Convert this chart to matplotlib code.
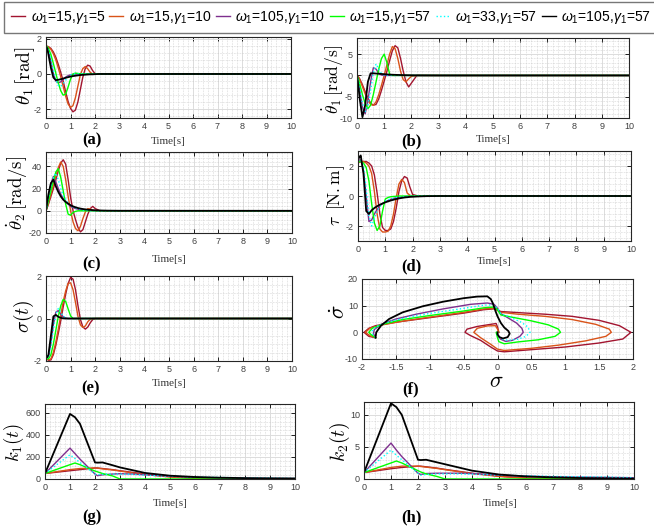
import numpy as np
import matplotlib
matplotlib.use('Agg')
import matplotlib.pyplot as plt
from matplotlib.ticker import AutoMinorLocator, FuncFormatter
from matplotlib.lines import Line2D
from matplotlib import font_manager as fm
from matplotlib.font_manager import FontProperties

avail = {f.name for f in fm.fontManager.ttflist}
NARROW = 'Liberation Sans Narrow' if 'Liberation Sans Narrow' in avail else 'Liberation Sans'
SERIF = 'Liberation Serif'

plt.rcParams['axes.unicode_minus'] = False
plt.rcParams['mathtext.fontset'] = 'cm'
plt.rcParams['mathtext.it'] = NARROW + ':italic'
plt.rcParams['mathtext.rm'] = NARROW

# ---------------- data ----------------
LABELS = [r'$\omega_1$=15,$\gamma_1$=5', r'$\omega_1$=15,$\gamma_1$=10', r'$\omega_1$=105,$\gamma_1$=10',
          r'$\omega_1$=15,$\gamma_1$=57', r'$\omega_1$=33,$\gamma_1$=57', r'$\omega_1$=105,$\gamma_1$=57']
COLORS = ['#A2142F', '#D95319', '#7E2F8E', '#00FF00', '#00FFFF', '#000000']
STYLES = ['-', '-', '-', '-', ':', '-']

T = [0, .05, .1, .2, .3, .4, .5, .6, .7, .8, .9, 1.0, 1.1, 1.2, 1.3, 1.4, 1.5, 1.6, 1.7, 1.8, 1.9, 2.0, 2.2, 2.5, 3.0, 10]

theta1 = [
    [1.57, 1.57, 1.55, 1.45, 1.25, 0.95, 0.55, 0.1, -0.4, -1.0, -1.55, -1.95, -2.15, -2.05, -1.6, -0.9, -0.2, 0.3, 0.5, 0.45, 0.2, 0.02, 0, 0, 0, 0],
    [1.57, 1.57, 1.53, 1.4, 1.15, 0.8, 0.35, -0.15, -0.7, -1.25, -1.7, -1.9, -1.8, -1.35, -0.7, -0.05, 0.3, 0.42, 0.3, 0.1, 0.0, 0, 0, 0, 0, 0],
    [1.57, 1.5, 1.3, 0.7, 0.05, -0.4, -0.5, -0.45, -0.3, -0.18, -0.1, -0.05, -0.02, 0, 0, 0, 0, 0, 0, 0, 0, 0, 0, 0, 0, 0],
    [1.57, 1.55, 1.45, 1.1, 0.6, 0.05, -0.5, -0.95, -1.2, -1.15, -0.75, -0.3, 0.0, 0.05, 0.03, 0.01, 0, 0, 0, 0, 0, 0, 0, 0, 0, 0],
    [1.57, 1.5, 1.35, 0.85, 0.2, -0.35, -0.65, -0.7, -0.55, -0.35, -0.15, -0.05, 0, 0, 0, 0, 0, 0, 0, 0, 0, 0, 0, 0, 0, 0],
    [1.57, 1.45, 1.1, 0.35, -0.2, -0.35, -0.33, -0.3, -0.26, -0.22, -0.18, -0.15, -0.12, -0.1, -0.08, -0.06, -0.05, -0.04, -0.03, -0.02, -0.02, -0.01, 0, 0, 0, 0],
]
theta1_dot = [
    [0, -0.3, -0.8, -2.2, -3.8, -5.3, -6.5, -7.0, -6.8, -5.5, -3.5, -1.3, 1.0, 3.5, 5.8, 7.0, 6.5, 4.0, 1.0, -1.5, -2.7, -1.8, 0, 0, 0, 0],
    [0, -0.4, -1.0, -2.6, -4.3, -5.8, -6.8, -7.0, -6.2, -4.5, -2.3, 0.0, 2.5, 5.0, 6.8, 6.3, 4.0, 1.0, -1.0, -1.5, -0.8, -0.2, 0, 0, 0, 0],
    [0, -1.5, -3.5, -7.5, -9.0, -6.0, -1.5, 1.8, 1.5, 0.5, 0.1, 0, 0, 0, 0, 0, 0, 0, 0, 0, 0, 0, 0, 0, 0, 0],
    [0, -0.8, -2.0, -4.5, -6.6, -7.8, -7.0, -4.5, -1.5, 1.5, 4.0, 5.0, 3.0, 0.3, 0, 0, 0, 0, 0, 0, 0, 0, 0, 0, 0, 0],
    [0, -1.2, -3.0, -6.5, -8.5, -7.0, -3.5, 0.5, 2.7, 1.5, 0.4, 0.1, 0, 0, 0, 0, 0, 0, 0, 0, 0, 0, 0, 0, 0, 0],
    [0, -2.5, -5.5, -9.8, -7.0, -1.5, 0.5, 0.5, 0.45, 0.4, 0.35, 0.3, 0.25, 0.2, 0.17, 0.14, 0.12, 0.1, 0.08, 0.06, 0.05, 0.04, 0.02, 0.01, 0, 0],
]
theta2_dot = [
    [0, 3, 6, 13, 20, 28, 36, 43, 46, 42, 28, 12, 0, -8, -15, -19, -17, -10, -3, 2, 4, 2, 0, 0, 0, 0],
    [0, 3.5, 7, 15, 23, 31, 39, 44, 40, 28, 13, 0, -10, -16, -18, -14, -7, -1, 2, 1.5, 0.5, 0, 0, 0, 0, 0],
    [0, 7, 13, 24, 31, 26, 20, 15, 11, 8, 6, 4, 3, 2, 1.5, 1, 0.7, 0.5, 0.3, 0.2, 0.1, 0, 0, 0, 0, 0],
    [0, 4.5, 9, 18, 27, 35, 38, 30, 18, 6, -3, -4, -1.5, -0.5, 0, 0, 0, 0, 0, 0, 0, 0, 0, 0, 0, 0],
    [0, 6, 12, 22, 30, 34, 28, 20, 14, 10, 7, 5, 3.5, 2.5, 1.8, 1.2, 0.8, 0.5, 0.3, 0.2, 0.1, 0, 0, 0, 0, 0],
    [0, 8, 15, 25, 28, 22, 17, 13, 10, 8, 6.5, 5, 4, 3.2, 2.5, 2, 1.6, 1.3, 1.0, 0.8, 0.6, 0.5, 0.3, 0.15, 0.05, 0],
]
tau = [
    [2.2, 2.25, 2.3, 2.3, 2.3, 2.2, 2.0, 1.4, 0.2, -1.2, -2.1, -2.3, -2.3, -2.2, -1.7, -0.8, 0.3, 1.0, 1.3, 1.2, 0.6, 0.1, 0, 0, 0, 0],
    [2.2, 2.25, 2.3, 2.3, 2.2, 2.0, 1.5, 0.3, -1.2, -2.2, -2.4, -2.4, -2.35, -2.0, -1.2, -0.1, 0.8, 1.1, 0.9, 0.2, 0.05, 0, 0, 0, 0, 0],
    [2.3, 2.4, 2.4, 1.7, 0.0, -1.7, -1.6, -1.2, -0.9, -0.65, -0.5, -0.38, -0.3, -0.22, -0.16, -0.12, -0.09, -0.07, -0.05, -0.03, -0.02, -0.01, 0, 0, 0, 0],
    [2.2, 2.3, 2.3, 2.2, 1.9, 1.0, -0.5, -1.8, -2.3, -2.0, -1.0, -0.2, -0.1, -0.05, -0.03, -0.02, 0, 0, 0, 0, 0, 0, 0, 0, 0, 0],
    [2.3, 2.4, 2.4, 2.0, 0.5, -1.3, -2.0, -1.5, -1.0, -0.7, -0.5, -0.35, -0.25, -0.2, -0.15, -0.1, -0.08, -0.06, -0.04, -0.03, -0.02, -0.01, 0, 0, 0, 0],
    [2.4, 2.6, 2.7, 1.5, -1.0, -1.2, -0.95, -0.8, -0.68, -0.58, -0.5, -0.42, -0.36, -0.3, -0.25, -0.2, -0.16, -0.13, -0.1, -0.08, -0.06, -0.05, -0.03, -0.01, 0, 0],
]
sigma = [
    [-1.82, -1.9, -1.97, -1.95, -1.7, -1.25, -0.7, -0.1, 0.55, 1.15, 1.65, 1.93, 1.85, 1.35, 0.6, -0.05, -0.4, -0.5, -0.4, -0.2, -0.05, 0, 0, 0, 0, 0],
    [-1.82, -1.9, -1.95, -1.9, -1.6, -1.1, -0.5, 0.15, 0.8, 1.3, 1.65, 1.68, 1.35, 0.75, 0.1, -0.3, -0.42, -0.35, -0.15, -0.03, 0, 0, 0, 0, 0, 0],
    [-1.82, -1.84, -1.8, -1.15, -0.3, 0.3, 0.37, 0.2, 0.08, 0.02, 0, 0, 0, 0, 0, 0, 0, 0, 0, 0, 0, 0, 0, 0, 0, 0],
    [-1.82, -1.88, -1.9, -1.7, -1.2, -0.55, 0.1, 0.6, 0.9, 0.8, 0.45, 0.12, 0.0, 0, 0, 0, 0, 0, 0, 0, 0, 0, 0, 0, 0, 0],
    [-1.82, -1.85, -1.83, -1.3, -0.5, 0.2, 0.47, 0.3, 0.1, 0.03, 0, 0, 0, 0, 0, 0, 0, 0, 0, 0, 0, 0, 0, 0, 0, 0],
    [-1.82, -1.82, -1.7, -0.8, 0.1, 0.17, 0.08, 0.03, 0.01, 0, 0, 0, 0, 0, 0, 0, 0, 0, 0, 0, 0, 0, 0, 0, 0, 0],
]
# phase portrait (sigma, sigma_dot)
phase_s = [
    [-1.8, -1.9, -1.97, -1.9, -1.8, -1.5, -1.0, -0.5, -0.2, -0.05, 0.05, 0.3, 0.7, 1.1, 1.5, 1.8, 1.97, 1.85, 1.5, 1.0, 0.5, 0.1, 0.0, -0.1, -0.25, -0.4, -0.48, -0.45, -0.3, -0.1, -0.02, 0.0, 0.02],
    [-1.8, -1.88, -1.95, -1.88, -1.7, -1.4, -1.0, -0.5, -0.2, -0.05, 0.05, 0.3, 0.7, 1.1, 1.45, 1.65, 1.68, 1.6, 1.3, 0.9, 0.5, 0.1, 0.0, -0.1, -0.25, -0.35, -0.3, -0.15, -0.03, 0.0, 0.02],
    [-1.8, -1.83, -1.82, -1.72, -1.5, -1.2, -0.8, -0.4, -0.15, -0.05, 0.0, 0.05, 0.15, 0.28, 0.36, 0.38, 0.33, 0.22, 0.12, 0.04, 0.0, 0.0],
    [-1.8, -1.86, -1.9, -1.85, -1.7, -1.4, -1.0, -0.5, -0.2, -0.05, 0.0, 0.05, 0.25, 0.5, 0.75, 0.9, 0.93, 0.85, 0.6, 0.3, 0.1, 0.02, 0.0, -0.02, 0.0],
    [-1.8, -1.84, -1.85, -1.8, -1.6, -1.3, -1.0, -0.5, -0.2, -0.06, 0.0, 0.05, 0.2, 0.35, 0.45, 0.48, 0.42, 0.3, 0.15, 0.05, 0.0, 0.0],
    [-1.8, -1.79, -1.72, -1.6, -1.4, -1.1, -0.8, -0.5, -0.3, -0.15, -0.1, -0.07, -0.03, 0.0, 0.05, 0.1, 0.16, 0.18, 0.15, 0.08, 0.03, 0.0, 0.0],
]
phase_sd = [
    [-2, -1.5, 0, 1.5, 2.5, 3.8, 5.5, 7.2, 8.5, 8.8, 7.8, 7.4, 6.8, 6.0, 4.5, 2.5, 0, -2.5, -4.0, -5.5, -6.5, -7.3, -7.0, -5.5, -3, -1.2, 0, 1.2, 2.2, 3.0, 3.3, 2, 0],
    [-2, -1.3, 0, 1.6, 2.8, 4.2, 5.7, 7.5, 8.8, 9.0, 7.5, 6.8, 6.0, 4.8, 3.0, 1.2, 0, -1.5, -3.2, -4.8, -6.0, -6.8, -6.3, -4.5, -2, 0, 1.5, 2.4, 2.5, 1.2, 0],
    [-2, -0.5, 1, 3, 5, 6.8, 8.8, 10.5, 11.0, 10.5, 9, 7, 5.5, 3.5, 1.5, 0, -1.5, -3.0, -3.4, -2.5, -1, 0],
    [-2, -1, 0, 1.5, 3, 4.8, 6.3, 8.0, 9.2, 9.5, 8.5, 6.5, 5.5, 4.3, 2.8, 1.2, 0, -1.5, -2.8, -3.6, -4.3, -3.5, -2, 0, 0],
    [-2, -0.8, 0.5, 2, 4, 5.8, 7.1, 9.0, 10.2, 10.3, 9.0, 7, 5.5, 3.8, 2, 0, -1.5, -2.6, -3.0, -2.5, -1.2, 0],
    [-2, 0, 2.5, 5, 7.5, 9.8, 11.5, 12.8, 13.4, 13.5, 12.5, 11, 8, 6, 3.5, 1.8, 0.5, -0.5, -1.8, -2.3, -1.8, -0.8, 0],
]

TK = [0, 1.0, 1.2, 1.4, 2.0, 2.1, 2.3, 2.7, 3.0, 3.5, 4, 5, 6, 7, 8, 9, 10]
k1 = [
    [50, 75, 80, 85, 100, 100, 95, 85, 75, 60, 45, 22, 8, 2, 0, 0, 0],
    [50, 85, 90, 95, 100, 98, 92, 82, 72, 55, 40, 18, 5, 0, 0, 0, 0],
    [50, 280, 230, 180, 45, 30, 38, 45, 48, 45, 38, 25, 15, 10, 7, 5, 4],
    [50, 130, 145, 130, 72, 65, 50, 28, 0, 0, 0, 0, 0, 0, 0, 0, 0],
    [50, 220, 185, 150, 45, 40, 42, 45, 45, 42, 35, 25, 18, 14, 11, 9, 5],
    [50, 590, 560, 500, 150, 148, 150, 125, 105, 80, 55, 30, 18, 12, 8, 6, 5],
]
k2 = [
    [1, 1.6, 1.7, 1.8, 2.0, 2.0, 1.9, 1.7, 1.5, 1.2, 0.9, 0.45, 0.15, 0.05, 0, 0, 0],
    [1, 1.8, 1.9, 2.0, 2.0, 1.95, 1.85, 1.65, 1.45, 1.15, 0.85, 0.4, 0.12, 0.03, 0, 0, 0],
    [1, 5.6, 4.5, 3.5, 0.9, 0.7, 0.85, 0.9, 0.9, 0.9, 0.85, 0.6, 0.45, 0.35, 0.3, 0.25, 0.2],
    [1, 2.5, 2.8, 2.5, 1.3, 1.1, 0.8, 0.4, 0, 0, 0, 0, 0, 0, 0, 0, 0],
    [1, 4.5, 3.7, 3.0, 0.9, 0.6, 0.7, 0.8, 0.8, 0.8, 0.75, 0.6, 0.5, 0.4, 0.35, 0.3, 0.2],
    [1, 11.8, 11.2, 10.0, 3.0, 2.95, 3.0, 2.6, 2.3, 1.8, 1.3, 0.7, 0.4, 0.25, 0.15, 0.1, 0.05],
]

# ---------------- figure ----------------
W, H = 654, 530
fig = plt.figure(figsize=(W / 100, H / 100), dpi=100)


def add_ax(l, t, r, b):
    return fig.add_axes([l / W, 1 - b / H, (r - l) / W, (b - t) / H])


def ftext(x, y, s, **kw):
    return fig.text(x / W, 1 - y / H, s, ha='center', va='center', **kw)


fmt = FuncFormatter(lambda v, p: '%g' % v)


def style(ax, xlim, ylim, xticks, yticks):
    ax.set_xlim(*xlim)
    ax.set_ylim(*ylim)
    ax.set_xticks(xticks)
    ax.set_yticks(yticks)
    ax.xaxis.set_major_formatter(fmt)
    ax.yaxis.set_major_formatter(fmt)
    ax.xaxis.set_minor_locator(AutoMinorLocator(5))
    ax.yaxis.set_minor_locator(AutoMinorLocator(5))
    ax.set_axisbelow(True)
    ax.grid(which='major', color='#dcdcdc', lw=0.7)
    ax.grid(which='minor', color='#c4c4c4', lw=0.45, ls=(0, (1, 1.5)))
    ax.tick_params(which='major', direction='in', top=True, right=True, length=3,
                   width=0.6, labelsize=6.5, labelcolor='#404040', pad=3)
    ax.tick_params(which='minor', length=0)
    for lab in ax.get_xticklabels() + ax.get_yticklabels():
        lab.set_family(NARROW)
    for sp in ax.spines.values():
        sp.set_color('#262626')
        sp.set_linewidth(0.8)


def plot_series(ax, xs, ys_list):
    for i, ys in enumerate(ys_list):
        x = xs[i] if isinstance(xs[0], list) else xs
        lw = 1.3 if i == 5 else 1.0
        ax.plot(x, ys, color=COLORS[i], ls=STYLES[i], lw=lw)


time_ticks = list(range(0, 11))
tsz = 8
YL = 14
YR = 12.5

# (a)
ax = add_ax(46, 37, 291, 118)
plot_series(ax, T, theta1)
style(ax, (0, 10), (-2.5, 2.1), time_ticks, [-2, 0, 2])
ftext(25, 76, r'$\theta_1\,[\mathrm{rad}]$', rotation=90, fontsize=YL)
ftext(92, 140, '(a)', fontsize=12, family=SERIF, weight='bold')
ftext(168, 142, 'Time[s]', fontsize=tsz, family=SERIF, color='#333333')

# (b)
ax = add_ax(357, 38, 629, 118)
plot_series(ax, T, theta1_dot)
style(ax, (0, 10), (-10, 8.8), time_ticks, [-10, -5, 0, 5])
ftext(333, 80, r'$\dot{\theta}_1\,[\mathrm{rad/s}]$', rotation=90, fontsize=YR)
ftext(411, 141, '(b)', fontsize=12, family=SERIF, weight='bold')
ftext(493, 140, 'Time[s]', fontsize=tsz, family=SERIF, color='#333333')

# (c)
ax = add_ax(46, 152, 292, 233)
plot_series(ax, T, theta2_dot)
style(ax, (0, 10), (-20, 53), time_ticks, [-20, 0, 20, 40])
ftext(17, 193, r'$\dot{\theta}_2\,[\mathrm{rad/s}]$', rotation=90, fontsize=13.5)
ftext(92, 264, '(c)', fontsize=12, family=SERIF, weight='bold')
ftext(169, 259, 'Time[s]', fontsize=tsz, family=SERIF, color='#333333')

# (d)
ax = add_ax(358, 151, 631, 241)
plot_series(ax, T, tau)
style(ax, (0, 10), (-3, 3), time_ticks, [-2, 0, 2])
ftext(336, 195, r'$\tau\;\;[\mathrm{N.m}]$', rotation=90, fontsize=YR)
ftext(411, 266, '(d)', fontsize=12, family=SERIF, weight='bold')
ftext(494, 261, 'Time[s]', fontsize=tsz, family=SERIF, color='#333333')

# (e)
ax = add_ax(46, 276, 292, 361)
plot_series(ax, T, sigma)
style(ax, (0, 10), (-2, 2), time_ticks, [-2, 0, 2])
ftext(24, 316, r'$\sigma(t)$', rotation=90, fontsize=14)
ftext(91, 388, '(e)', fontsize=12, family=SERIF, weight='bold')
ftext(169, 384, 'Time[s]', fontsize=tsz, family=SERIF, color='#333333')

# (f)
ax = add_ax(362, 279, 633, 359)
plot_series(ax, phase_s, phase_sd)
style(ax, (-2, 2), (-10, 20), [-2, -1.5, -1, -0.5, 0, 0.5, 1, 1.5, 2], [-10, 0, 10, 20])
ftext(339, 312, r'$\dot{\sigma}$', rotation=90, fontsize=16)
ftext(496, 381, r'$\sigma$', fontsize=16)
ftext(411, 389, '(f)', fontsize=12, family=SERIF, weight='bold')

# (g)
ax = add_ax(45, 404, 295, 479)
plot_series(ax, TK, k1)
style(ax, (0, 10), (0, 680), time_ticks, [0, 200, 400, 600])
ftext(14, 443, r'$k_1(t)$', rotation=90, fontsize=13.5)
ftext(92, 517, '(g)', fontsize=12, family=SERIF, weight='bold')
ftext(170, 504, 'Time[s]', fontsize=tsz, family=SERIF, color='#333333')

# (h)
ax = add_ax(364, 402, 634, 479)
plot_series(ax, TK, k2)
style(ax, (0, 10), (0, 12), time_ticks, [0, 5, 10])
ftext(340, 442, r'$k_2(t)$', rotation=90, fontsize=14)
ftext(411, 517, '(h)', fontsize=12, family=SERIF, weight='bold')
ftext(500, 504, 'Time[s]', fontsize=tsz, family=SERIF, color='#333333')

# legend
handles = [Line2D([], [], color=COLORS[i], ls=STYLES[i], lw=1.0) for i in range(6)]
prop = FontProperties(family=NARROW, size=10.1, math_fontfamily='custom')
leg = fig.legend(handles, LABELS, loc='upper left', bbox_to_anchor=(4 / W, 1 - 2 / H),
                 ncol=6, prop=prop, frameon=True, fancybox=False, handlelength=1.0,
                 handletextpad=0.4, columnspacing=0.3, borderpad=0.5, borderaxespad=0)
leg.get_frame().set_edgecolor('#555555')
leg.get_frame().set_linewidth(1.0)

fig.savefig('out.png', dpi=100)
